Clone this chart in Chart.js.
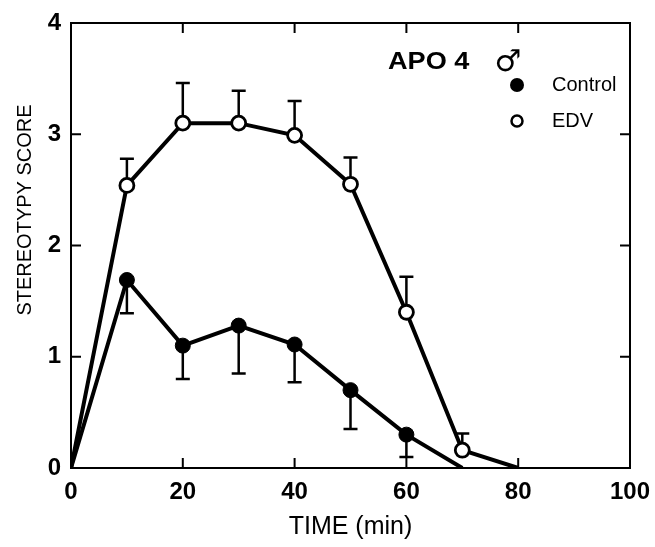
<!DOCTYPE html>
<html><head><meta charset="utf-8">
<script src="https://cdn.jsdelivr.net/npm/chart.js@4"></script>
<style>html,body{margin:0;padding:0;background:#fff}</style>
</head><body>
<canvas id="c" width="655" height="547"></canvas>
<script>
// ---- data ----
const timeEDV = [0, 10, 20, 30, 40, 50, 60, 70, 80];
const scoreEDV = [0, 2.54, 3.10, 3.10, 2.99, 2.55, 1.40, 0.16, 0];
const errUpperEDV = [null, 2.78, 3.46, 3.39, 3.30, 2.79, 1.72, 0.31, null];
const timeControl = [0, 10, 20, 30, 40, 50, 60, 70];
const scoreControl = [0, 1.69, 1.10, 1.28, 1.11, 0.70, 0.30, 0];
const errLowerControl = [null, 1.39, 0.80, 0.85, 0.77, 0.35, 0.10, null];
const xTicks = [0, 20, 40, 60, 80, 100];
const yTicks = [0, 1, 2, 3, 4];
const xInnerTicks = [20, 40, 60, 80];
const yInnerTicks = [1, 2, 3];
const seriesNames = ['Control', 'EDV'];
const chartLabel = 'APO 4';
const xTitle = 'TIME (min)';
const yTitle = 'STEREOTYPY SCORE';

const FONT = "'Liberation Sans', Arial, Helvetica, sans-serif";

function pts(xs, ys) { return xs.map((x, i) => ({x: x, y: ys[i]})); }

const framePlugin = {
  id: 'frame',
  beforeDatasetsDraw(chart) {
    const {ctx, chartArea: a, scales: {x, y}} = chart;
    ctx.save();
    ctx.strokeStyle = '#000';
    ctx.lineWidth = 2;
    ctx.strokeRect(a.left, a.top, a.right - a.left, a.bottom - a.top);
    const L = 10;
    ctx.beginPath();
    xInnerTicks.forEach(v => {
      const px = x.getPixelForValue(v);
      ctx.moveTo(px, a.bottom); ctx.lineTo(px, a.bottom - L);
      ctx.moveTo(px, a.top); ctx.lineTo(px, a.top + L);
    });
    yInnerTicks.forEach(v => {
      const py = y.getPixelForValue(v);
      ctx.moveTo(a.left, py); ctx.lineTo(a.left + L, py);
      ctx.moveTo(a.right, py); ctx.lineTo(a.right - L, py);
    });
    ctx.stroke();
    // error bars
    ctx.lineWidth = 2.5;
    const cap = 7;
    ctx.beginPath();
    timeEDV.forEach((t, i) => {
      if (errUpperEDV[i] == null) return;
      const px = x.getPixelForValue(t);
      const p0 = y.getPixelForValue(scoreEDV[i]);
      const p1 = y.getPixelForValue(errUpperEDV[i]);
      ctx.moveTo(px, p0); ctx.lineTo(px, p1);
      ctx.moveTo(px - cap, p1); ctx.lineTo(px + cap, p1);
    });
    timeControl.forEach((t, i) => {
      if (errLowerControl[i] == null) return;
      const px = x.getPixelForValue(t);
      const p0 = y.getPixelForValue(scoreControl[i]);
      const p1 = y.getPixelForValue(errLowerControl[i]);
      ctx.moveTo(px, p0); ctx.lineTo(px, p1);
      ctx.moveTo(px - cap, p1); ctx.lineTo(px + cap, p1);
    });
    ctx.stroke();
    ctx.restore();
  },
  afterDraw(chart) {
    const {ctx} = chart;
    ctx.save();
    ctx.fillStyle = '#000';
    ctx.strokeStyle = '#000';
    // y title
    ctx.save();
    ctx.translate(25, 210);
    ctx.rotate(-Math.PI / 2);
    ctx.font = "20px " + FONT;
    ctx.textAlign = 'center';
    ctx.textBaseline = 'middle';
    ctx.fillText(yTitle, 0, 0);
    ctx.restore();
    // legend block
    ctx.save();
    ctx.translate(388, 62);
    ctx.scale(1.13, 1);
    ctx.font = "bold 24px " + FONT;
    ctx.textAlign = 'left';
    ctx.textBaseline = 'middle';
    ctx.fillText(chartLabel, 0, 0);
    ctx.restore();
    ctx.font = "30px 'DejaVu Sans', sans-serif";
    ctx.textAlign = 'center';
    ctx.textBaseline = 'middle';
    ctx.fillText('\u2642', 508, 63);
    // markers
    ctx.beginPath(); ctx.arc(517, 85, 7, 0, Math.PI * 2); ctx.fill();
    ctx.beginPath(); ctx.arc(517, 121, 5.5, 0, Math.PI * 2);
    ctx.fillStyle = '#fff'; ctx.fill(); ctx.lineWidth = 2.5; ctx.stroke();
    ctx.fillStyle = '#000';
    ctx.font = "20px " + FONT;
    ctx.textAlign = 'left';
    ctx.fillText(seriesNames[0], 552, 85);
    ctx.fillText(seriesNames[1], 552, 121);
    ctx.restore();
  }
};

const isEnd = ctx => !!(ctx.raw && (ctx.raw.x === 0 || ctx.raw.y === 0));

new Chart(document.getElementById('c'), {
  type: 'line',
  data: {
    datasets: [
      {
        label: seriesNames[1],
        data: pts(timeEDV, scoreEDV),
        borderColor: '#000', borderWidth: 4,
        pointBackgroundColor: '#fff', pointBorderColor: '#000', pointBorderWidth: 2.8,
        pointRadius: ctx => isEnd(ctx) ? 0 : 7,
        tension: 0, order: 2
      },
      {
        label: seriesNames[0],
        data: pts(timeControl, scoreControl),
        borderColor: '#000', borderWidth: 4,
        pointBackgroundColor: '#000', pointBorderColor: '#000', pointBorderWidth: 1,
        pointRadius: ctx => isEnd(ctx) ? 0 : 7.5,
        tension: 0, order: 1
      }
    ]
  },
  options: {
    responsive: false,
    animation: false,
    devicePixelRatio: 1,
    layout: {padding: {left: 0, top: 23, right: 25, bottom: 0}},
    plugins: {legend: {display: false}, tooltip: {enabled: false}},
    scales: {
      x: {
        type: 'linear', min: 0, max: 100,
        afterBuildTicks: s => { s.ticks = xTicks.map(v => ({value: v})); },
        afterFit: s => { s.height = 79; s.paddingRight = 0; s.paddingLeft = 0; },
        grid: {display: false, drawTicks: false},
        border: {display: false},
        ticks: {color: '#000', font: {family: FONT, size: 24, weight: 'bold'}, padding: 10, maxRotation: 0},
        title: {display: true, text: xTitle, color: '#000', font: {family: FONT, size: 25}, padding: {top: 0, bottom: 5}}
      },
      y: {
        type: 'linear', min: 0, max: 4,
        afterBuildTicks: s => { s.ticks = yTicks.map(v => ({value: v})); },
        afterFit: s => { s.width = 71; s.paddingTop = 0; s.paddingBottom = 0; },
        grid: {display: false, drawTicks: false},
        border: {display: false},
        ticks: {color: '#000', font: {family: FONT, size: 24, weight: 'bold'}, padding: 10}
      }
    }
  },
  plugins: [framePlugin]
});
</script>
</body></html>
